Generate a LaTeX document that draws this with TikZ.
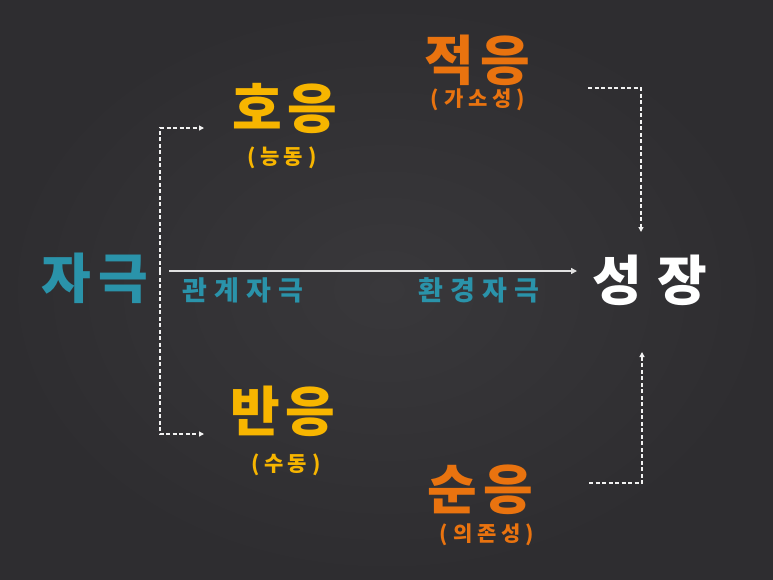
\documentclass[tikz,border=0pt]{standalone}
\usepackage{fontspec}
\newfontfamily\kr{Noto Sans CJK KR}
\usetikzlibrary{arrows.meta}
\definecolor{boardin}{HTML}{39383B}
\definecolor{boardout}{HTML}{2E2D30}
\definecolor{kyellow}{HTML}{F7B500}
\definecolor{korange}{HTML}{E9730F}
\definecolor{kteal}{HTML}{2A93AA}
\definecolor{chalk}{HTML}{F2F2F2}
\tikzset{
  big/.style={font=\kr\bfseries\fontsize{54}{58}\selectfont, inner sep=0pt},
  sub/.style={font=\kr\bfseries\fontsize{21}{24}\selectfont, inner sep=0pt},
  mid/.style={font=\kr\bfseries\fontsize{27}{30}\selectfont, inner sep=0pt, text=kteal},
  dasharrow/.style={draw=chalk, line width=1.2pt, dash pattern=on 4pt off 2.5pt, -{Triangle[length=5pt,width=5pt]}},
  mainarrow/.style={draw=chalk!85!gray, line width=1.4pt, -{Triangle[length=6pt,width=6pt]}}
}
\begin{document}
\begin{tikzpicture}[x=1pt,y=-1pt]
\useasboundingbox (0,0) rectangle (773,579);
\shade[inner color=boardin, outer color=boardout] (0,0) rectangle (773,579);

% words
\node[big, text=kyellow] (hoeung) at (285,108) {호\hspace{6pt}응};
\node[sub, text=kyellow] (neungdong) at (282,158) {(\hspace{5pt}능\hspace{4pt}동\hspace{5pt})};
\node[big, text=korange] (jeokeung) at (477,60) {적\hspace{6pt}응};
\node[sub, text=korange] (gasoseong) at (478,100) {(\hspace{5pt}가\hspace{5pt}소\hspace{5pt}성\hspace{5pt})};
\node[big, text=kyellow] (baneung) at (283,411) {반\hspace{6pt}응};
\node[sub, text=kyellow] (sudong) at (286,465) {(\hspace{5pt}수\hspace{4pt}동\hspace{5pt})};
\node[big, text=korange] (suneung) at (480,490) {순\hspace{6pt}응};
\node[sub, text=korange] (uijonseong) at (487,535) {(\hspace{5pt}의\hspace{5pt}존\hspace{5pt}성\hspace{5pt})};
\node[big, text=kteal] (jageuk) at (95,278) {자\hspace{8pt}극};
\node[big, text=white] (seongjang) at (650,280) {성\hspace{15pt}장};
\node[mid] (gwangye) at (243,290) {관\hspace{7pt}계\hspace{7pt}자\hspace{7pt}극};
\node[mid] (hwangyeong) at (479,290) {환\hspace{7pt}경\hspace{7pt}자\hspace{7pt}극};

% connector points
\coordinate (split) at (160,271);
\coordinate (hoIn) at (204,128);
\coordinate (banIn) at (204,434);
\coordinate (arrStart) at (169,271);
\coordinate (arrEnd) at (577,271);
\coordinate (jeokOut) at (588,88);
\coordinate (growTop) at (641,232);
\coordinate (sunOut) at (589,483);
\coordinate (growBot) at (642,352);

\draw[dasharrow] (split) |- (hoIn);
\draw[dasharrow] (split) |- (banIn);
\draw[dasharrow] (jeokOut) -| (growTop);
\draw[dasharrow] (sunOut) -| (growBot);
\draw[mainarrow] (arrStart) -- (arrEnd);
\end{tikzpicture}
\end{document}
